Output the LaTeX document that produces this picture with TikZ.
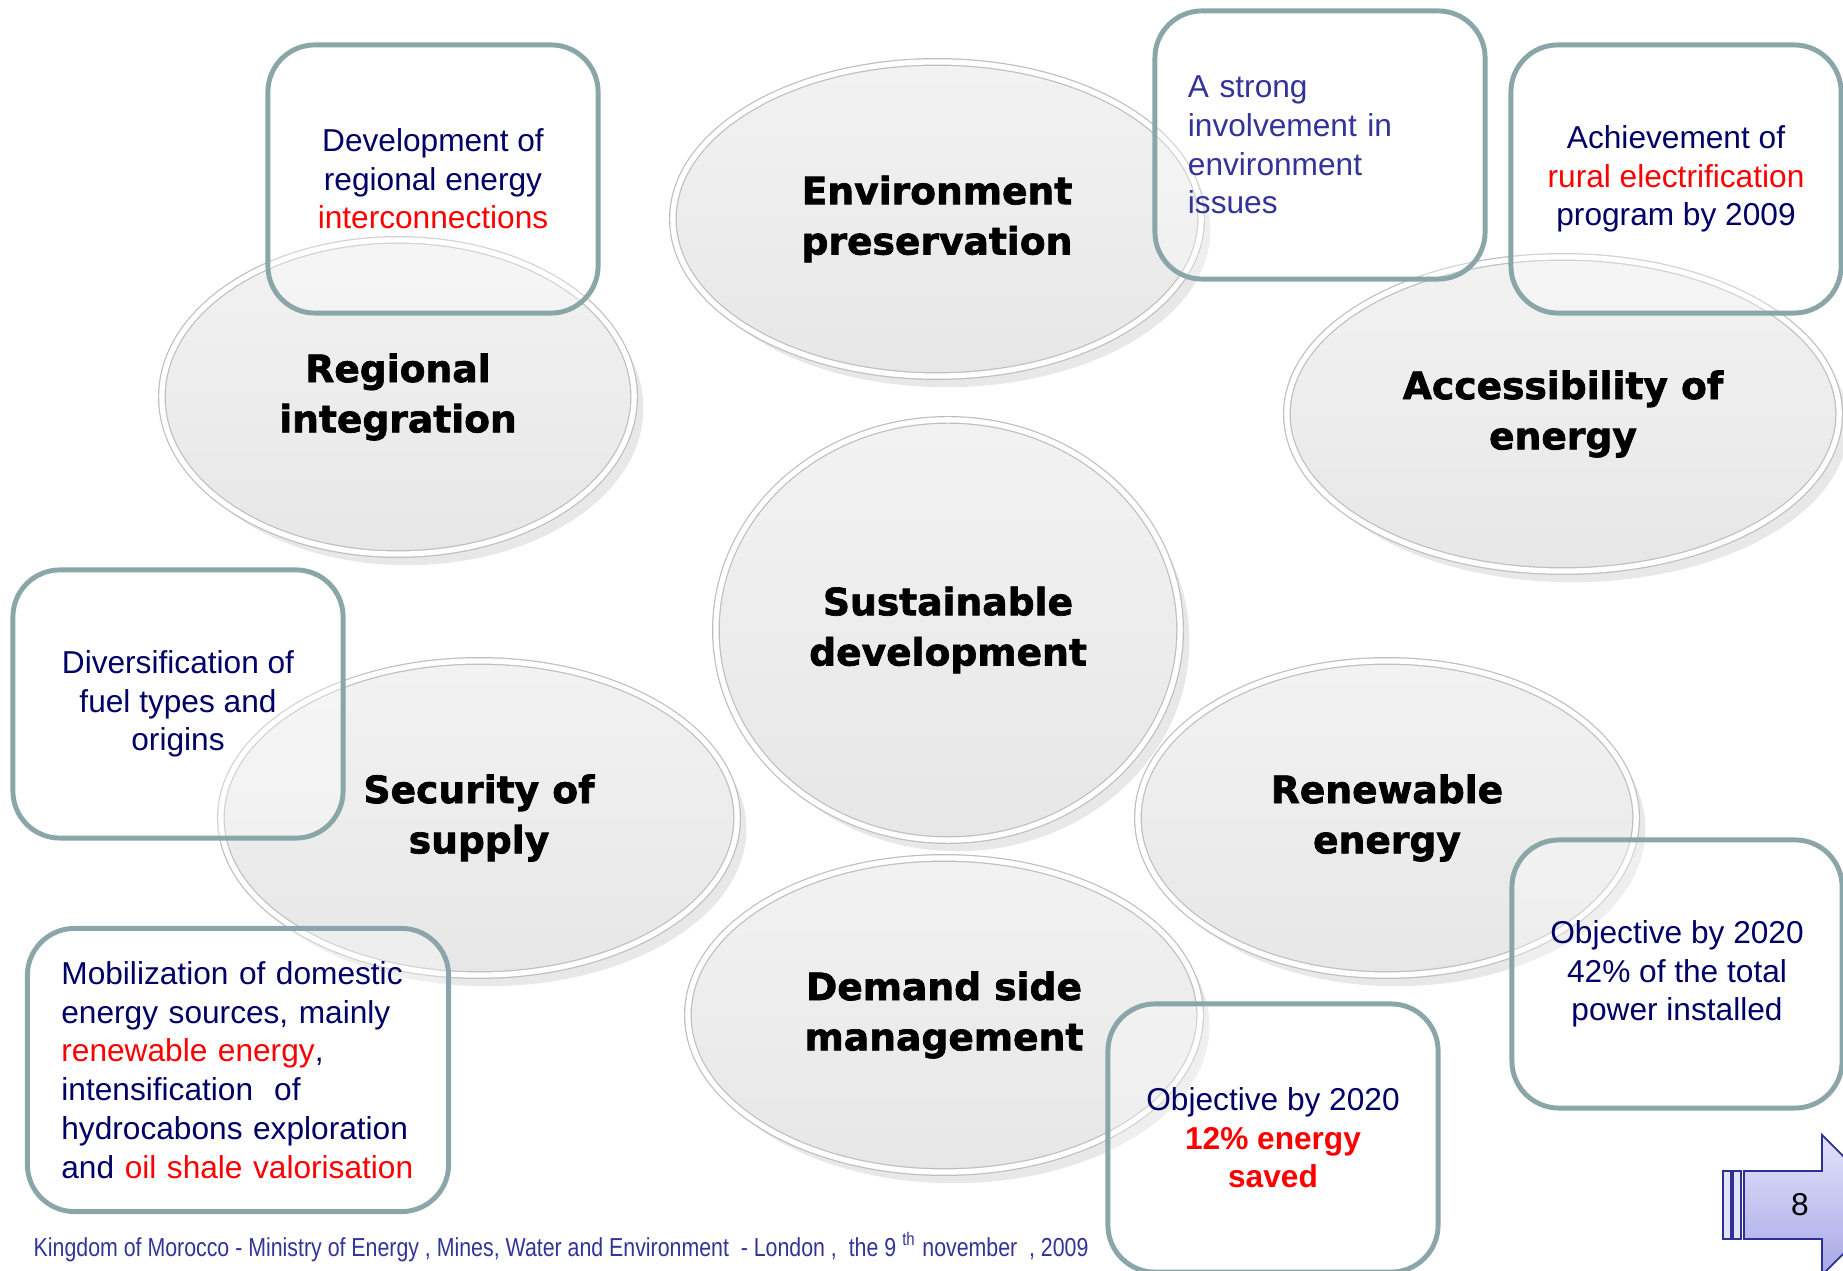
\documentclass[tikz,border=0pt]{standalone}
\usepackage{fontspec}
\setmainfont{Liberation Sans}
\newfontfamily\headfont{DejaVu Sans}[BoldFeatures={FakeBold=1.8}]
\newfontfamily\narrowfont{Liberation Sans}[FakeStretch=0.82]
\usetikzlibrary{shapes.geometric, shadows}
\definecolor{navy}{HTML}{000066}
\definecolor{indigo}{HTML}{333399}
\definecolor{boxline}{HTML}{8AA6A8}
\definecolor{tabline}{HTML}{2E3192}
\definecolor{tabtop}{HTML}{E2E2FA}
\definecolor{tabbottom}{HTML}{A8A8E6}

\begin{document}
\begin{tikzpicture}[x=0.01cm, y=-0.01cm,
    pillar/.style={ellipse, inner sep=0pt, top color=gray!10, bottom color=gray!19,
        draw=gray!50, line width=0.35pt, double=white, double distance=1.5pt,
        drop shadow={opacity=0.18, shadow xshift=0.5ex, shadow yshift=-0.6ex},
        align=center, font=\headfont\bfseries\fontsize{10.7}{14.3}\selectfont},
    note/.style={draw=boxline, line width=1.4pt, rounded corners=0.47cm,
        fill=white, fill opacity=0.3, text opacity=1,
        minimum width=3.3cm, minimum height=2.68cm, inner sep=0pt,
        align=center, text=navy, font=\fontsize{9}{11}\selectfont}]

    % page frame
    \useasboundingbox (0,0) rectangle (1843,1271);
    \clip (0,0) rectangle (1843,1271);

    % draw the pillars
    \node[pillar, minimum width=5.28cm, minimum height=3.14cm] (env) at (937,219) {Environment\\preservation};
    \node[pillar, minimum width=4.72cm, minimum height=3.14cm] (reg) at (398,397) {Regional\\integration};
    \node[pillar, minimum width=5.52cm, minimum height=3.14cm] (acc) at (1563,414) {Accessibility of\\energy};
    \node[pillar, minimum width=4.64cm, minimum height=4.2cm] (sus) at (948,630) {Sustainable\\development};
    \node[pillar, minimum width=5.16cm, minimum height=3.14cm] (sec) at (479,818) {Security of\\supply};
    \node[pillar, minimum width=4.98cm, minimum height=3.14cm] (ren) at (1387,818) {Renewable\\energy};
    \node[pillar, minimum width=5.12cm, minimum height=3.14cm] (dem) at (944,1015) {Demand side\\management};

    % draw the notes
    \node[note] (regnote) at (433,179) {Development of\\regional energy\\{\color{red}interconnections}};
    \node[note, text=indigo, align=left, text width=2.64cm] (envnote) at (1320,145)
        {A strong\\involvement in\\environment\\issues};
    \node[note] (accnote) at (1676,179) {Achievement of\\{\color{red}rural electrification}\\program by 2009};
    \node[note] (secnote) at (178,704) {Diversification of\\fuel types and\\origins};
    \node[note, align=left, minimum width=4.21cm, minimum height=2.83cm, text width=3.53cm] (mobnote) at (238,1070)
        {Mobilization of domestic\\energy sources, mainly\\{\color{red}renewable energy},\\intensification\ \ of\\hydrocabons exploration\\and {\color{red}oil shale valorisation}};
    \node[note] (demnote) at (1273,1138) {Objective by 2020\\{\color{red}\bfseries 12\% energy}\\{\color{red}\bfseries saved}};
    \node[note] (rennote) at (1677,974) {Objective by 2020\\42\% of the total\\power installed};

    % footer
    \node[anchor=base west, inner sep=0pt, text=indigo, font=\narrowfont\fontsize{7.4}{8}\selectfont] (footer) at (33,1256)
        {Kingdom of Morocco - Ministry of Energy , Mines, Water and Environment\ \ - London ,\ \ the 9 \textsuperscript{th} november\ \ , 2009};

    % page tab
    \draw[tabline, line width=0.5pt, top color=tabtop, bottom color=tabbottom]
        (1744,1171) -- (1822,1171) -- (1822,1135) -- (1892,1205) -- (1822,1275) -- (1822,1239) -- (1744,1239) -- cycle;
    \draw[tabline, line width=0.5pt, fill=tabtop] (1723,1171) rectangle (1731,1239);
    \draw[tabline, line width=0.5pt, fill=tabtop] (1733,1171) rectangle (1741,1239);
    \node[font=\fontsize{9}{10}\selectfont] (page) at (1800,1205) {8};

\end{tikzpicture}
\end{document}
